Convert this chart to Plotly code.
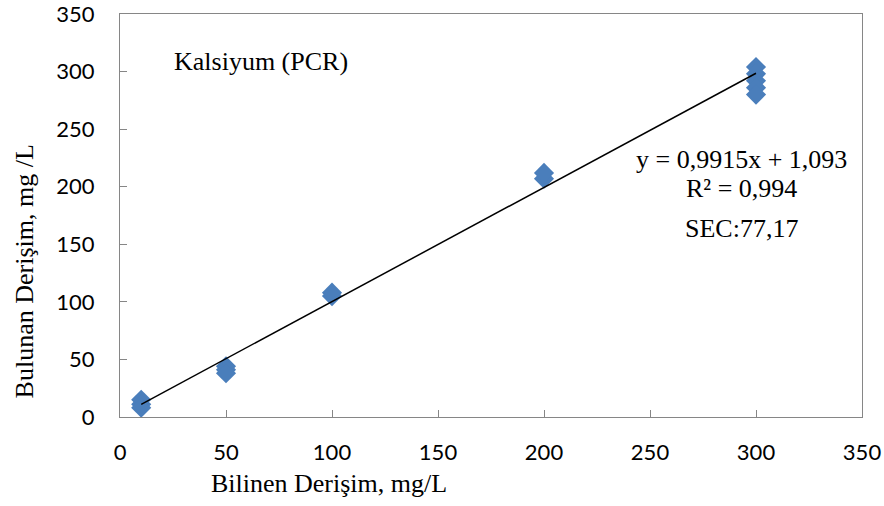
import plotly.graph_objects as go

# Data
known_10 = [10, 10, 10]
found_10 = [15, 11, 8]
known_50 = [50, 50, 50]
found_50 = [44, 41, 38]
known_100 = [100, 100]
found_100 = [105, 108]
known_200 = [200, 200]
found_200 = [207, 212]
known_300 = [300, 300, 300, 300, 300]
found_300 = [304, 298, 292, 286, 280]

x_known = known_10 + known_50 + known_100 + known_200 + known_300
y_found = found_10 + found_50 + found_100 + found_200 + found_300

# Trendline coefficients (from chart label)
slope = 0.9915
intercept = 1.093
trend_x = [min(x_known), max(x_known)]
trend_y = [slope * v + intercept for v in trend_x]

tick_vals = [0, 50, 100, 150, 200, 250, 300, 350]

fig = go.Figure()
fig.add_trace(go.Scatter(
    x=x_known, y=y_found, mode="markers",
    marker=dict(symbol="diamond", size=15.5, color="#4A7EBB"),
    showlegend=False, cliponaxis=False))
fig.add_trace(go.Scatter(
    x=trend_x, y=trend_y, mode="lines",
    line=dict(color="black", width=1.5), showlegend=False))

axis_common = dict(
    showgrid=False, zeroline=False, showline=True, mirror=True,
    linecolor="#868686", linewidth=1.3, ticks="inside", ticklen=7,
    tickcolor="#868686", tickwidth=1.3, automargin=False,
    ticklabeloverflow="allow",
    tickfont=dict(family="Lato, Open Sans, sans-serif", size=22, color="black"),
)
fig.update_xaxes(range=[0, 350], tickvals=tick_vals, ticklabelstandoff=15, **axis_common)
fig.update_yaxes(range=[0, 350], tickvals=tick_vals, ticklabelstandoff=20, **axis_common)

serif = "Liberation Serif, Times New Roman, serif"
fig.add_annotation(x=0.07, y=0.883, xref="paper", yref="paper", xanchor="left", yanchor="middle",
                   text="Kalsiyum (PCR)", showarrow=False,
                   font=dict(family=serif, size=26, color="black"))
for txt, yy in [("y = 0,9915x + 1,093", 0.638), ("R² = 0,994", 0.566), ("SEC:77,17", 0.467)]:
    fig.add_annotation(x=0.837, y=yy, xref="paper", yref="paper", xanchor="center", yanchor="middle",
                       text=txt, showarrow=False,
                       font=dict(family=serif, size=26, color="black"))
fig.add_annotation(x=0.282, y=-0.164, xref="paper", yref="paper", xanchor="center", yanchor="middle",
                   text="Bilinen Derişim, mg/L", showarrow=False,
                   font=dict(family=serif, size=26, color="black"))
fig.add_annotation(x=-0.129, y=0.362, xref="paper", yref="paper", xanchor="center", yanchor="middle",
                   text="Bulunan Derişim, mg /L", showarrow=False, textangle=-90,
                   font=dict(family=serif, size=26, color="black"))

fig.update_layout(
    width=884, height=506,
    margin=dict(l=120, r=22, t=14, b=89),
    plot_bgcolor="white", paper_bgcolor="white",
)
fig.write_html("out.html", config={"displayModeBar": False},
               post_script="document.body.style.margin='0';document.body.style.overflow='hidden';")
